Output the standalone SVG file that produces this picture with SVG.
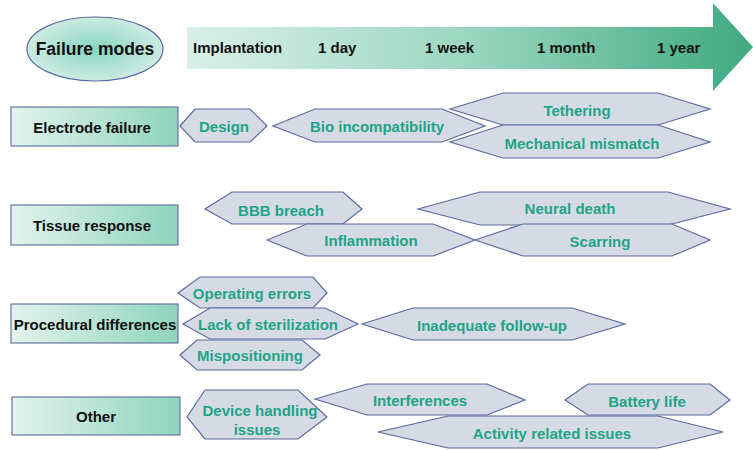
<svg xmlns="http://www.w3.org/2000/svg" width="753" height="450" viewBox="0 0 753 450">
<defs>
<linearGradient id="arrowG" x1="0" y1="0" x2="1" y2="0">
<stop offset="0" stop-color="#daf0e8"/>
<stop offset="0.5" stop-color="#9ad6c0"/>
<stop offset="1" stop-color="#3fa97f"/>
</linearGradient>
<linearGradient id="boxG" x1="0" y1="0" x2="1" y2="0">
<stop offset="0" stop-color="#e3f3ee"/>
<stop offset="1" stop-color="#8ed4bd"/>
</linearGradient>
<radialGradient id="ellG" cx="0.5" cy="0.5" r="0.5">
<stop offset="0" stop-color="#86d6c0"/>
<stop offset="1" stop-color="#cdebe2"/>
</radialGradient>
</defs>
<style>
.box{fill:url(#boxG);stroke:#6676a8;stroke-width:1.2}
.hex{fill:#d5dae5;stroke:#5a6a9e;stroke-width:1.2}
.lbl{font-family:"Liberation Sans",Arial,sans-serif;font-weight:bold;font-size:15px;fill:#111;text-anchor:middle}
.ht{font-family:"Liberation Sans",Arial,sans-serif;font-weight:bold;font-size:15px;fill:#1ea487;text-anchor:middle}
.tl{font-family:"Liberation Sans",Arial,sans-serif;font-weight:bold;font-size:15px;fill:#111}
.big{font-size:17.5px}
</style>
<g id="timeline">
<polygon points="187,27 713,27 713,3 753,47 713,91 713,69 187,69" fill="url(#arrowG)"/>
<text class="tl" x="193" y="52.5">Implantation</text>
<text class="tl" x="318" y="52.5">1 day</text>
<text class="tl" x="425" y="52.5">1 week</text>
<text class="tl" x="537" y="52.5">1 month</text>
<text class="tl" x="657" y="52.5">1 year</text>
</g>
<g id="failure-modes">
<ellipse cx="95" cy="49" rx="68" ry="32" fill="url(#ellG)" stroke="#5b6aa6" stroke-width="1.2"/>
<text class="lbl big" x="95" y="55">Failure modes</text>
</g>
<g id="electrode-failure">
<rect class="box" x="11" y="107" width="167" height="39"/>
<text class="lbl" x="92" y="132.5">Electrode failure</text>
</g>
<g id="tissue-response">
<rect class="box" x="11" y="205" width="167" height="40"/>
<text class="lbl" x="92" y="230.5">Tissue response</text>
</g>
<g id="procedural-differences">
<rect class="box" x="11" y="304" width="167" height="39"/>
<text class="lbl" x="95" y="329.5">Procedural differences</text>
</g>
<g id="other">
<rect class="box" x="12" y="397" width="168" height="38"/>
<text class="lbl" x="96" y="421.5">Other</text>
</g>
<g id="design">
<polygon class="hex" points="180,126 195,109 250,109 267,126 250,142 195,142"/>
<text class="ht" x="224" y="131.5">Design</text>
</g>
<g id="bio-incompatibility">
<polygon class="hex" points="273,126 315,109 442,109 485,126 442,142 315,142"/>
<text class="ht" x="377" y="131.5">Bio incompatibility</text>
</g>
<g id="tethering">
<polygon class="hex" points="450,109 503,93 658,93 710,109 658,125 503,125"/>
<text class="ht" x="577" y="115.5">Tethering</text>
</g>
<g id="mechanical-mismatch">
<polygon class="hex" points="450,142 503,125 658,125 710,142 658,158 503,158"/>
<text class="ht" x="582" y="148.5">Mechanical mismatch</text>
</g>
<g id="bbb-breach">
<polygon class="hex" points="205,209 232,192 343,192 362,209 343,224 232,224"/>
<text class="ht" x="281" y="215.5">BBB breach</text>
</g>
<g id="neural-death">
<polygon class="hex" points="418,209 480,192 668,192 730,209 668,225 480,225"/>
<text class="ht" x="570" y="213.5">Neural death</text>
</g>
<g id="inflammation">
<polygon class="hex" points="267,240 307,224 433,224 475,240 433,256 307,256"/>
<text class="ht" x="371" y="245.5">Inflammation</text>
</g>
<g id="scarring">
<polygon class="hex" points="475,240 523,224 672,224 710,240 672,256 523,256"/>
<text class="ht" x="600" y="246.5">Scarring</text>
</g>
<g id="operating-errors">
<polygon class="hex" points="178,293 200,277 313,277 327,293 313,308 200,308"/>
<text class="ht" x="252" y="298.5">Operating errors</text>
</g>
<g id="lack-of-sterilization">
<polygon class="hex" points="183,324 210,308 325,308 358,324 325,339 210,339"/>
<text class="ht" x="268" y="329.5">Lack of sterilization</text>
</g>
<g id="mispositioning">
<polygon class="hex" points="180,355 197,340 302,340 320,355 302,370 197,370"/>
<text class="ht" x="250" y="360.5">Mispositioning</text>
</g>
<g id="inadequate-follow-up">
<polygon class="hex" points="362,324 413,308 572,308 625,324 572,340 413,340"/>
<text class="ht" x="492" y="330.5">Inadequate follow-up</text>
</g>
<g id="device-handling-issues">
<polygon class="hex" points="187,417 205,390 298,390 327,417 298,439 205,439"/>
<text class="ht" x="260" y="416">Device handling</text>
<text class="ht" x="257" y="435">issues</text>
</g>
<g id="interferences">
<polygon class="hex" points="315,399 367,384 487,384 525,400 487,415 367,415"/>
<text class="ht" x="420" y="405.5">Interferences</text>
</g>
<g id="battery-life">
<polygon class="hex" points="565,400 588,384 710,384 730,400 710,415 588,415"/>
<text class="ht" x="647" y="406.5">Battery life</text>
</g>
<g id="activity-related-issues">
<polygon class="hex" points="378,432 448,416 658,416 723,432 658,448 448,448"/>
<text class="ht" x="552" y="438.5">Activity related issues</text>
</g>
<g id="connectors"></g>
</svg>
